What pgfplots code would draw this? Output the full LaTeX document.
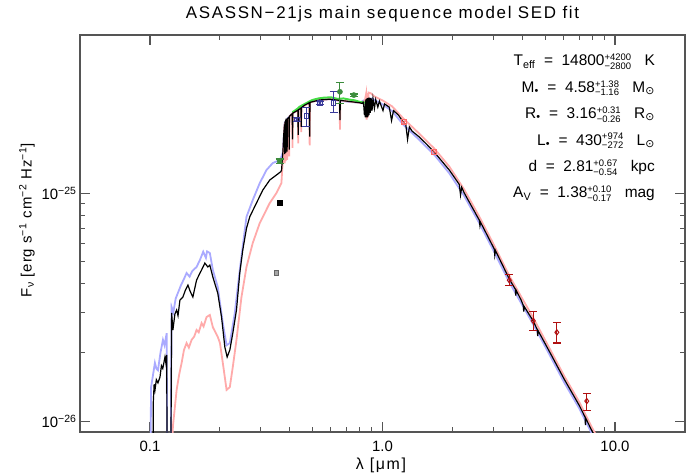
\documentclass[border=0pt]{standalone}
\usepackage{fontspec}
\setmainfont{Liberation Sans}
\newfontfamily\djv{DejaVu Sans}
\usepackage{pgfplots}
\pgfplotsset{compat=1.18}
\definecolor{lblue}{HTML}{AAAAFF}
\definecolor{lpink}{HTML}{FFAAAA}
\definecolor{lgreen}{HTML}{44DD44}
\definecolor{dgreen}{HTML}{3C8C3C}
\definecolor{dblue}{HTML}{3A3A9A}
\definecolor{dred}{HTML}{B01010}
\definecolor{ppink}{HTML}{FF6A6A}
\definecolor{axgray}{HTML}{555555}
\newcommand\fs[1]{\fontsize{#1}{#1}\selectfont}
\newcommand\ud[2]{$^{\hbox{\fs{9.5}#1}}_{\hbox{\fs{9.5}#2}}$}
\newcommand\sunsub{\textsubscript{\djv ⊙}}
\begin{document}
\begin{tikzpicture}
\path[use as bounding box] (-80bp,-42bp) rectangle (606bp,432bp);
\begin{axis}[
  at={(0,0)}, anchor=south west,
  scale only axis, width=605bp, height=397bp,
  xmode=log, ymode=log,
  xmin=0.05, xmax=20, ymin=8.95e-27, ymax=4.93e-25,
  xtick={0.1,1,10}, xticklabels={0.1,1.0,10.0},
  ytick={1e-26,1e-25}, yticklabels={10\textsuperscript{−26},10\textsuperscript{−25}},
  tick label style={font=\fs{15}, text=black},
  xticklabel style={yshift=-5bp},
  axis line style={draw=axgray, line width=1.3bp},
  major tick style={draw=axgray, line width=1.1bp},
  minor tick style={draw=axgray, line width=1bp},
  major tick length=10bp, minor tick length=5bp,
  tick align=inside,
  clip=true,
]
% blue model
\addplot[lblue, line width=1.8bp] coordinates {
(0.1005,5e-27) (0.1010,1.4e-26) (0.1033,1.62e-26) (0.1050,1.80e-26) (0.1065,1.70e-26) (0.1082,1.67e-26)
(0.1110,2.0e-26) (0.1137,2.27e-26) (0.1155,2.15e-26) (0.1180,2.43e-26) (0.1186,5e-27) (0.1226,5e-27)
(0.1239,3.16e-26) (0.1260,3.0e-26) (0.1290,3.45e-26) (0.1323,3.68e-26) (0.1360,3.95e-26) (0.1400,4.2e-26)
(0.1437,4.46e-26) (0.1480,4.3e-26) (0.1520,4.55e-26) (0.1586,4.74e-26) (0.1639,5.08e-26) (0.1694,5.53e-26)
(0.1740,5.2e-26) (0.1760,5.55e-26) (0.1809,5.46e-26) (0.1864,4.60e-26) (0.1957,3.87e-26) (0.2057,2.69e-26)
(0.2135,2.15e-26) (0.2205,2.20e-26) (0.2316,2.98e-26) (0.2433,4.60e-26) (0.2600,7.87e-26) (0.2767,9.32e-26)
(0.2966,1.106e-25) (0.3168,1.261e-25) (0.3373,1.354e-25) (0.3613,1.395e-25) (0.3680,1.45e-25) (0.3723,1.50e-25)
(0.3797,2.03e-25) (0.3912,2.13e-25) (0.4109,2.24e-25) (0.4317,2.31e-25) (0.4627,2.43e-25) (0.4943,2.51e-25)
(0.5366,2.56e-25) (0.5922,2.58e-25) (0.6539,2.54e-25) (0.7218,2.51e-25) (0.7967,2.49e-25) (0.85,2.58e-25)
(0.90,2.60e-25) (1.0,2.45e-25) (1.104,2.28e-25) (1.231,1.99e-25) (1.441,1.71e-25) (1.672,1.47e-25)
(1.940,1.22e-25) (2.248,9.7e-26) (2.608,7.38e-26) (3.026,5.51e-26) (3.509,4.07e-26) (3.950,3.29e-26)
(4.447,2.66e-26) (5.208,1.97e-26) (6.040,1.48e-26) (7.008,1.14e-26) (7.966,8.77e-27) (8.54,7.7e-27)
};
% pink model
\addplot[lpink, line width=1.8bp] coordinates {
(0.1226,5e-27) (0.1255,9.5e-27) (0.1302,1.37e-26) (0.1335,1.6e-26) (0.1368,1.80e-26) (0.1400,2.05e-26)
(0.1437,2.20e-26) (0.1470,2.1e-26) (0.1510,2.27e-26) (0.1550,2.35e-26) (0.1586,2.51e-26) (0.1620,2.45e-26)
(0.1667,2.69e-26) (0.1700,2.60e-26) (0.1751,2.86e-26) (0.1809,2.92e-26) (0.1864,2.58e-26) (0.1957,2.34e-26)
(0.2000,2.20e-26) (0.2057,1.80e-26) (0.2135,1.37e-26) (0.2205,1.41e-26) (0.2271,1.73e-26) (0.2355,2.27e-26)
(0.2474,3.50e-26) (0.2600,4.74e-26) (0.2767,6.04e-26) (0.2966,7.39e-26) (0.3273,9.04e-26) (0.3498,1.0e-25)
(0.3675,1.106e-25) (0.3734,1.45e-25) (0.3790,2.00e-25) (0.3798,1.35e-25) (0.3806,2.04e-25) (0.3835,1.38e-25)
(0.3843,2.08e-25) (0.3889,1.40e-25) (0.3898,2.12e-25) (0.3970,1.45e-25) (0.3980,2.17e-25) (0.4090,2.23e-25)
(0.4102,1.58e-25) (0.4114,2.24e-25) (0.4325,2.31e-25) (0.4340,1.65e-25) (0.4355,2.32e-25) (0.4460,2.36e-25)
(0.4471,1.85e-25) (0.4482,2.37e-25) (0.4845,2.49e-25) (0.4861,1.62e-25) (0.4877,2.50e-25) (0.5366,2.56e-25)
(0.5922,2.58e-25) (0.6540,2.55e-25) (0.6563,1.90e-25) (0.6586,2.55e-25) (0.7218,2.52e-25) (0.8200,2.48e-25)
(0.8400,2.55e-25) (0.8500,2.72e-25) (0.8545,2.10e-25) (0.8600,2.74e-25) (0.8665,2.15e-25) (0.8700,2.76e-25)
(0.8900,2.74e-25) (0.9200,2.66e-25) (0.9600,2.60e-25) (1.0000,2.55e-25) (1.1000,2.40e-25) (1.231,2.12e-25)
(1.441,1.82e-25) (1.672,1.566e-25) (1.940,1.305e-25) (2.248,1.035e-25) (2.608,7.88e-26) (3.026,5.88e-26)
(3.509,4.34e-26) (3.950,3.51e-26) (4.447,2.84e-26) (5.208,2.10e-26) (6.040,1.58e-26) (7.008,1.216e-26)
(7.966,9.36e-27) (8.54,8.2e-27)
};
% green spectrum
\addplot[lgreen, line width=2bp] coordinates {
(0.410,2.26e-25) (0.420,2.30e-25) (0.430,2.34e-25) (0.440,2.39e-25) (0.450,2.42e-25) (0.470,2.48e-25)
(0.500,2.56e-25) (0.530,2.60e-25) (0.560,2.62e-25) (0.600,2.63e-25) (0.640,2.59e-25) (0.680,2.60e-25)
(0.720,2.57e-25) (0.760,2.55e-25) (0.800,2.51e-25) (0.840,2.49e-25)
};
% black model
\addplot[black, line width=1.2bp] coordinates {
(0.1030,5e-27) (0.1033,1.2e-26) (0.1042,1.45e-26) (0.1051,1.37e-26) (0.1065,1.52e-26) (0.1082,1.47e-26)
(0.1104,1.56e-26) (0.1120,1.75e-26) (0.1135,1.70e-26) (0.1160,1.91e-26) (0.1170,1.80e-26) (0.1180,1.95e-26)
(0.1186,5e-27) (0.1228,5e-27) (0.1239,2.98e-26) (0.1255,2.51e-26) (0.1280,2.95e-26) (0.1302,3.07e-26)
(0.1320,2.90e-26) (0.1345,3.39e-26) (0.1385,3.50e-26) (0.1420,3.75e-26) (0.1456,3.95e-26) (0.1490,3.70e-26)
(0.1529,3.50e-26) (0.1586,4.15e-26) (0.1630,4.40e-26) (0.1667,4.60e-26) (0.1722,4.93e-26) (0.1774,4.74e-26)
(0.1809,4.83e-26) (0.1864,4.28e-26) (0.1957,3.64e-26) (0.2031,2.86e-26) (0.2099,2.11e-26) (0.2147,1.91e-26)
(0.2205,2.05e-26) (0.2271,2.43e-26) (0.2355,3.07e-26) (0.2433,4.46e-26) (0.2506,5.62e-26) (0.2600,7.00e-26)
(0.2686,7.87e-26) (0.2870,9.04e-26) (0.3055,1.03e-25) (0.3273,1.14e-25) (0.3498,1.20e-25) (0.3650,1.24e-25)
(0.3680,1.26e-25) (0.3734,1.54e-25) (0.3760,1.80e-25) (0.3790,2.00e-25) (0.3798,1.48e-25) (0.3806,2.04e-25)
(0.3828,2.07e-25) (0.3835,1.50e-25) (0.3843,2.08e-25) (0.3880,2.10e-25) (0.3889,1.52e-25) (0.3898,2.12e-25)
(0.3960,2.15e-25) (0.3970,1.55e-25) (0.3980,2.17e-25) (0.4090,2.23e-25) (0.4102,1.72e-25) (0.4114,2.24e-25)
(0.4325,2.31e-25) (0.4340,1.80e-25) (0.4355,2.32e-25) (0.4460,2.36e-25) (0.4471,1.95e-25) (0.4482,2.37e-25)
(0.4627,2.43e-25) (0.4845,2.49e-25) (0.4861,1.77e-25) (0.4877,2.50e-25) (0.5366,2.56e-25) (0.5922,2.58e-25)
(0.6540,2.55e-25) (0.6563,2.09e-25) (0.6586,2.55e-25) (0.7218,2.52e-25) (0.7967,2.49e-25) (0.8200,2.47e-25)
(0.8250,2.50e-25) (0.8300,2.45e-25) (0.8360,2.20e-25) (0.8400,2.40e-25) (0.8438,2.15e-25) (0.8455,2.55e-25)
(0.8467,2.15e-25) (0.8485,2.57e-25) (0.8502,2.15e-25) (0.8520,2.58e-25) (0.8545,2.15e-25) (0.8570,2.60e-25)
(0.8598,2.15e-25) (0.8630,2.61e-25) (0.8665,2.17e-25) (0.8700,2.62e-25) (0.8750,2.20e-25) (0.8800,2.62e-25)
(0.8863,2.25e-25) (0.8930,2.61e-25) (0.9015,2.30e-25) (0.9100,2.60e-25) (0.9229,2.35e-25) (0.9350,2.57e-25)
(0.9546,2.38e-25) (0.9700,2.53e-25) (1.0049,2.30e-25) (1.0200,2.46e-25) (1.0700,2.38e-25) (1.0938,2.08e-25)
(1.1150,2.30e-25) (1.1700,2.20e-25) (1.2000,2.12e-25) (1.2300,2.05e-25) (1.2600,1.99e-25) (1.2818,1.72e-25)
(1.3050,1.95e-25) (1.3400,1.87e-25) (1.4410,1.76e-25) (1.5500,1.635e-25) (1.6720,1.51e-25) (1.9400,1.26e-25)
(2.1400,1.09e-25) (2.1660,0.98e-25) (2.1900,1.06e-25) (2.2480,1.0e-25) (2.6080,7.61e-26) (2.6250,7.2e-26)
(2.6400,7.45e-26) (3.0260,5.68e-26) (3.0400,5.35e-26) (3.0600,5.6e-26) (3.5090,4.20e-26) (3.7300,3.78e-26)
(3.7400,3.55e-26) (3.7600,3.74e-26) (3.9500,3.39e-26) (4.0300,3.22e-26) (4.0500,3.02e-26) (4.0700,3.18e-26)
(4.4470,2.75e-26) (4.6300,2.52e-26) (4.6500,2.36e-26) (4.6700,2.49e-26) (5.2080,2.03e-26) (6.0400,1.53e-26)
(7.0080,1.175e-26) (7.4400,1.04e-26) (7.4600,9.6e-27) (7.4800,1.03e-26) (7.9660,9.04e-27) (8.5400,7.93e-27)
};
% photometry
\addplot[only marks, mark=square*, mark size=2.2bp, color=black!60, mark options={fill=black!35}] coordinates {(0.35,4.47e-26)};
\addplot[only marks, mark=square*, mark size=2.4bp, color=black] coordinates {(0.361,9.1e-26)};
\addplot[only marks, mark=*, mark size=2.6bp, color=dgreen,
  error bars/.cd, y dir=both, y explicit, error bar style={line width=1.1bp},
  error mark options={rotate=90, mark size=4bp, line width=1.1bp}] coordinates {
  (0.361,1.38e-25) +- (0,0.03e-25)
  (0.656,2.78e-25) += (0,0.27e-25) -= (0,0.31e-25)
  (0.753,2.69e-25) +- (0,0.03e-25)
};
\addplot[only marks, mark=square, mark size=2.3bp, color=dblue, line width=0.9bp,
  error bars/.cd, y dir=both, y explicit, error bar style={line width=1.1bp},
  error mark options={rotate=90, mark size=4bp, line width=1.1bp}] coordinates {
  (0.428,2.10e-25) +- (0,0.04e-25)
  (0.470,2.18e-25) += (0,0.20e-25) -= (0,0.23e-25)
  (0.538,2.48e-25) +- (0,0.03e-25)
  (0.616,2.49e-25) += (0,0.29e-25) -= (0,0.24e-25)
};
\addplot[only marks, mark=x, mark size=2.3bp, color=dblue, line width=0.8bp] coordinates {
  (0.428,2.10e-25) (0.538,2.48e-25)};
\addplot[only marks, mark=square, mark size=2.5bp, color=ppink, line width=1bp] coordinates {
  (1.234,2.04e-25) (1.67,1.52e-25)};
\addplot[only marks, mark=x, mark size=2.5bp, color=ppink, line width=0.9bp] coordinates {
  (1.234,2.04e-25) (1.67,1.52e-25)};
\addplot[only marks, mark=diamond, mark size=2.6bp, color=dred, line width=1bp,
  error bars/.cd, y dir=both, y explicit, error bar style={line width=1.2bp},
  error mark options={rotate=90, mark size=4bp, line width=1.2bp}] coordinates {
  (3.51,4.15e-26) += (0,0.25e-26) -= (0,0.23e-26)
  (4.45,2.75e-26) += (0,0.27e-26) -= (0,0.26e-26)
  (5.62,2.45e-26) += (0,0.25e-26) -= (0,0.25e-26)
  (7.56,1.224e-26) += (0,0.096e-26) -= (0,0.107e-26)
};
\end{axis}
% title and labels
\node[font={\fs{17}\addfontfeature{LetterSpace=10}}] at (302.5bp,418bp) {ASASSN−21js main sequence model SED fit};
\node[font={\fs{16}\addfontfeature{LetterSpace=10}}] at (301bp,-33bp) {λ [μm]};
\node[font={\fs{15}\addfontfeature{LetterSpace=6}}, rotate=90] at (-53bp,212bp) {F\textsubscript{ν} [erg s\textsuperscript{−1} cm\textsuperscript{−2} Hz\textsuperscript{−1}]};
% annotations
\begin{scope}[every node/.style={font=\fs{15.5}, anchor=base east, inner sep=0pt}]
\node at (575bp,366bp) {T\textsubscript{eff} \ = \ 14800\ud{+4200}{−2800} \ \ K};
\node at (575bp,339.6bp) {M\textsubscript{•} \ = \ 4.58\ud{+1.38}{−1.16} \ \ M\sunsub};
\node at (575bp,313.2bp) {R\textsubscript{•} \ = \ 3.16\ud{+0.31}{−0.26} \ \ R\sunsub};
\node at (575bp,286.8bp) {L\textsubscript{•} \ = \ 430\ud{+974}{−272} \ \ L\sunsub};
\node at (575bp,260.4bp) {d \ = \ 2.81\ud{+0.67}{−0.54} \ \ kpc};
\node at (575bp,234bp) {A\textsubscript{V} \ = \ 1.38\ud{+0.10}{−0.17} \ \ mag};
\end{scope}
\end{tikzpicture}
\end{document}
